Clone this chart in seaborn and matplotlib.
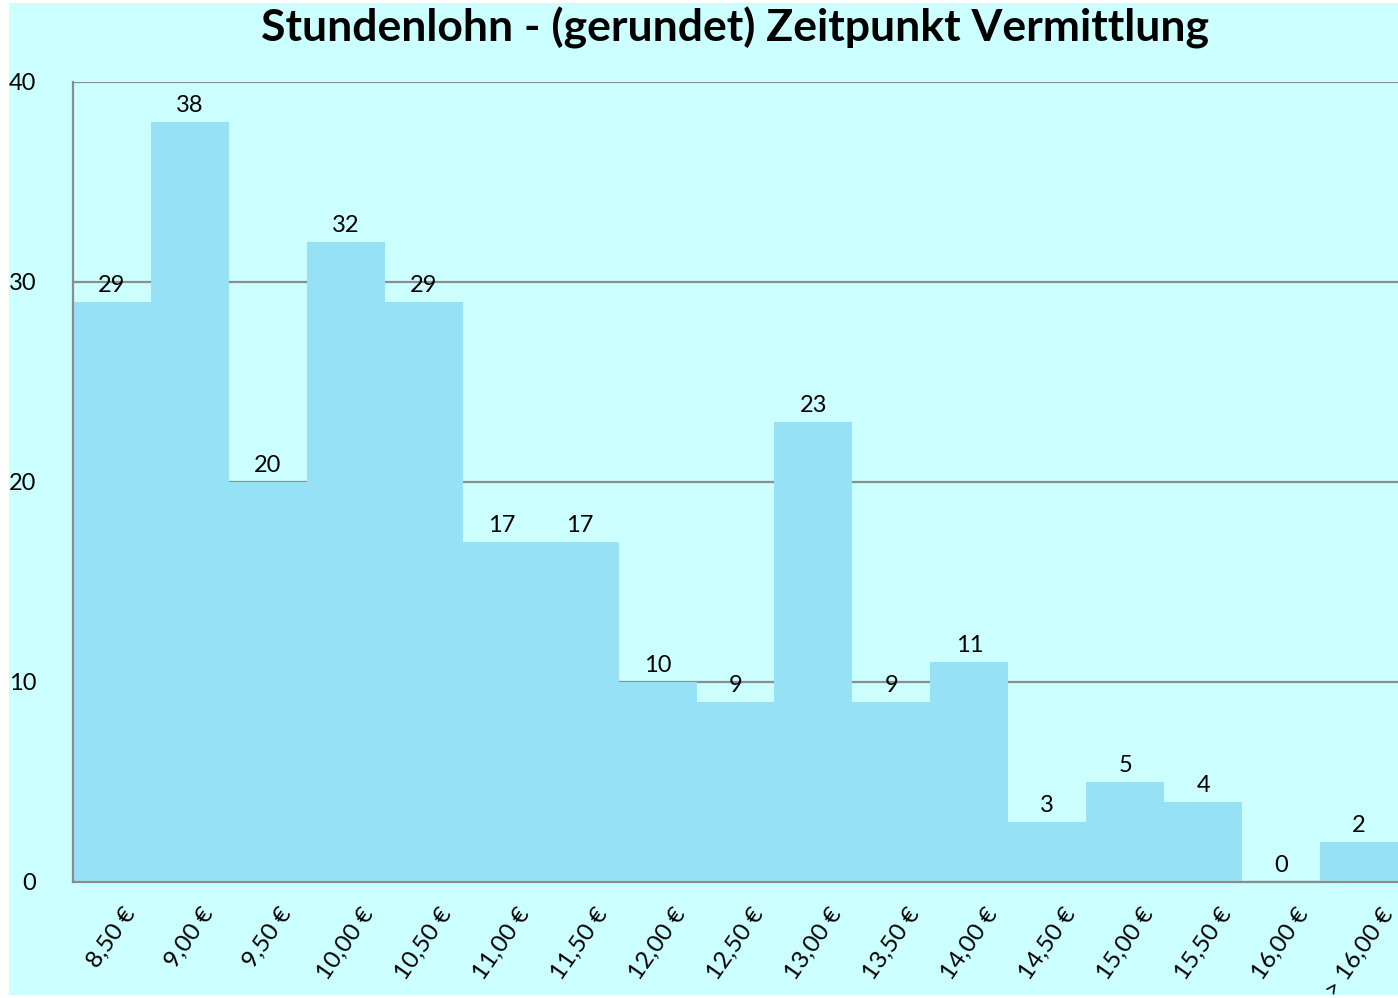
import matplotlib
matplotlib.use("Agg")
import matplotlib.pyplot as plt
import seaborn as sns
import pandas as pd
from matplotlib.patches import Rectangle

# Data
wage_labels = ["8,50 €", "9,00 €", "9,50 €", "10,00 €", "10,50 €", "11,00 €",
               "11,50 €", "12,00 €", "12,50 €", "13,00 €", "13,50 €", "14,00 €",
               "14,50 €", "15,00 €", "15,50 €", "16,00 €", "> 16,00 €"]
counts = [29, 38, 20, 32, 29, 17, 17, 10, 9, 23, 9, 11, 3, 5, 4, 0, 2]

df = pd.DataFrame({"Lohn": wage_labels, "Anzahl": counts})

bg = "#CCFFFF"
bar_color = "#97E1F7"
line_gray = "#8C8C8C"

sns.set_style("white")
plt.rcParams["font.family"] = ["Lato", "DejaVu Sans"]
plt.rcParams["text.color"] = "black"
plt.rcParams["xtick.color"] = "black"
plt.rcParams["ytick.color"] = "black"

W, H = 1398, 998
fig = plt.figure(figsize=(W / 100, H / 100), dpi=100, facecolor="white")
fig.patches.append(Rectangle((9 / W, 3 / H), 1 - 9 / W, 1 - 6 / H,
                             transform=fig.transFigure, facecolor=bg,
                             edgecolor="none", zorder=-10))

ax = fig.add_axes([73 / W, (H - 882) / H, 1 - 73 / W, 800 / H])
ax.set_facecolor(bg)

sns.barplot(data=df, x="Lohn", y="Anzahl", color=bar_color, width=1.0,
            saturation=1, edgecolor="none", ax=ax, zorder=2)

ax.set_xlim(-0.5, len(counts) - 0.5)
ax.set_ylim(0, 40)
ax.set_yticks([0, 10, 20, 30, 40])
ax.yaxis.grid(True, color=line_gray, linewidth=1.6, zorder=0)
ax.set_axisbelow(True)

for s in ["top", "right"]:
    ax.spines[s].set_visible(False)
for s in ["left", "bottom"]:
    ax.spines[s].set_color(line_gray)
    ax.spines[s].set_linewidth(1.6)
    ax.spines[s].set_zorder(3)

# labels centred on categories, ticks at the boundaries
ax.set_xticks(range(len(wage_labels)))
ax.set_xticklabels(wage_labels, rotation=55, ha="center", va="top", fontsize=17.5)
ax.tick_params(axis="x", which="major", length=0, pad=16)
ax.set_xticks([i - 0.5 for i in range(len(wage_labels) + 1)], minor=True)
ax.tick_params(axis="x", which="minor", length=6, width=1.6, color=line_gray)
ax.tick_params(axis="y", length=4.5, width=1.6, color=line_gray, pad=22,
               labelsize=17, labelcolor="black")

ax.set_xlabel("")
ax.set_ylabel("")

ax.bar_label(ax.containers[0], labels=[str(c) for c in counts], padding=4,
             fontsize=17, zorder=4)

fig.suptitle("Stundenlohn - (gerundet) Zeitpunkt Vermittlung", x=0.526,
             y=1 - 28 / H, va="center", fontsize=32, fontweight="bold")

fig.savefig("out.png", dpi=100, facecolor=fig.get_facecolor())
